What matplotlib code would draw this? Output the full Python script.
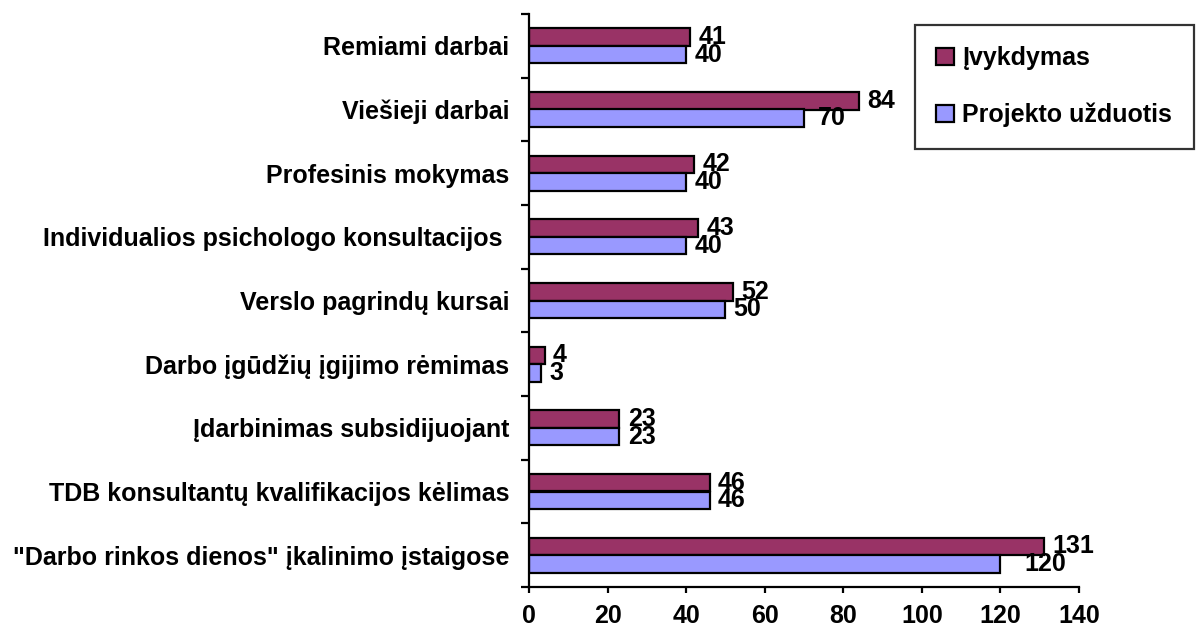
import matplotlib.pyplot as plt
import numpy as np
from matplotlib.patches import Patch

# data
categories = ['Remiami darbai', 'Viešieji darbai', 'Profesinis mokymas',
              'Individualios psichologo konsultacijos ', 'Verslo pagrindų kursai',
              'Darbo įgūdžių įgijimo rėmimas', 'Įdarbinimas subsidijuojant',
              'TDB konsultantų kvalifikacijos kėlimas',
              '"Darbo rinkos dienos" įkalinimo įstaigose']
ivykdymas = [41, 84, 42, 43, 52, 4, 23, 46, 131]
uzduotis = [40, 70, 40, 40, 50, 3, 23, 46, 120]
x_ticks = [0, 20, 40, 60, 80, 100, 120, 140]
series_names = ['Įvykdymas', 'Projekto užduotis']

plt.rcParams['font.family'] = ['Liberation Sans', 'DejaVu Sans']
plt.rcParams['font.weight'] = 'bold'
FS = 18
c_top = '#993366'
c_low = '#9999FF'

fig = plt.figure(figsize=(12, 6.27), dpi=100)
ax = fig.add_axes([529 / 1200, 1 - 587 / 627, 550 / 1200, (587 - 14) / 627])

n = len(categories)
y = np.arange(n)[::-1]
h = 0.277

bars_top = ax.barh(y + h / 2, ivykdymas, height=h, color=c_top,
                   edgecolor='black', linewidth=1.6)
bars_low = ax.barh(y - h / 2, uzduotis, height=h, color=c_low,
                   edgecolor='black', linewidth=1.6)

# value labels just outside the bar ends
for b, v in zip(bars_top, ivykdymas):
    ax.annotate(str(v), (b.get_width(), b.get_y() + b.get_height() / 2),
                xytext=(6, 0), textcoords='offset points',
                ha='left', va='center', fontsize=FS, fontweight='bold')
for b, v in zip(bars_low, uzduotis):
    dx = 6
    if v == 70:
        dx = 10
    if v == 120:
        dx = 17
    ax.annotate(str(v), (b.get_width(), b.get_y() + b.get_height() / 2),
                xytext=(dx, 0), textcoords='offset points',
                ha='left', va='center', fontsize=FS, fontweight='bold')

ax.set_xlim(0, 140)
ax.set_ylim(-0.5, n - 0.5)
ax.set_xticks(x_ticks)
ax.set_xticklabels([str(t) for t in x_ticks], fontsize=FS, fontweight='bold')
ax.set_yticks(y)
ax.set_yticklabels(categories, fontsize=FS, fontweight='bold')
ax.set_yticks(np.arange(n + 1) - 0.5, minor=True)

ax.tick_params(axis='y', which='major', length=0, pad=14)
ax.tick_params(axis='y', which='minor', length=6, width=1.6, direction='out')
ax.tick_params(axis='x', which='major', length=4, width=1.6, direction='out', pad=8)

for s in ['top', 'right']:
    ax.spines[s].set_visible(False)
for s in ['left', 'bottom']:
    ax.spines[s].set_linewidth(1.6)

handles = [Patch(facecolor=c_top, edgecolor='black', linewidth=1.6),
           Patch(facecolor=c_low, edgecolor='black', linewidth=1.6)]
leg = fig.legend(handles, series_names, loc='upper left',
                 bbox_to_anchor=(915 / 1200, 1 - 25 / 627),
                 prop={'weight': 'bold', 'size': FS},
                 frameon=True, fancybox=False, edgecolor='black',
                 handlelength=0.7, handleheight=0.7, handletextpad=0.35,
                 labelspacing=1.3, borderpad=0.85, borderaxespad=0)
leg.get_frame().set_linewidth(1.6)

fig.savefig('out.png', dpi=100)
